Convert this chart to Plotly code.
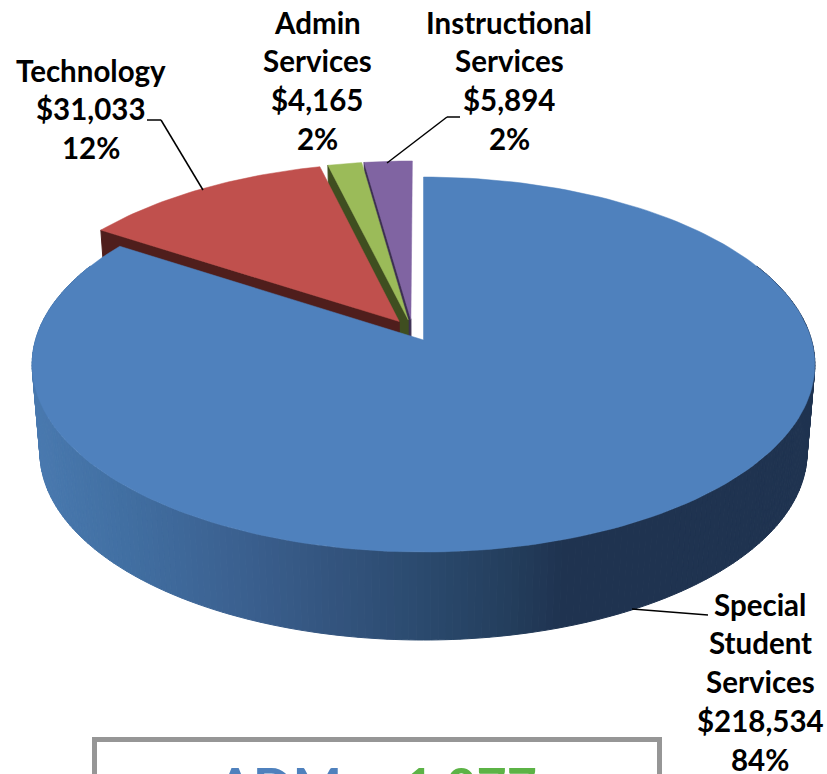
import math
import plotly.graph_objects as go

categories = ["Special Student Services", "Technology", "Admin Services", "Instructional Services"]
values = [218534, 31033, 4165, 5894]
value_labels = ["$218,534", "$31,033", "$4,165", "$5,894"]
percent_labels = ["84%", "12%", "2%", "2%"]
label_lines = [["Special", "Student", "Services"], ["Technology"], ["Admin", "Services"], ["Instructional", "Services"]]
top_colors = ["#4f81bd", "#c0504d", "#9bbb59", "#8064a2"]
wall_colors = ["#1f3552", "#4f1e1c", "#3f4e20", "#3c2f52"]
label_pos = [(760, 604), (91, 70), (317, 22), (509, 22)]
leaders = [[(632, 609), (708, 615)], [(147, 120), (161, 120), (203, 190)], [(460, 117), (447, 117), (387, 163)]]
wall_stops = [(32, "#4a7ab0"), (120, "#4270a3"), (230, "#3c6292"), (330, "#34557f"), (424, "#2b4a6e"),
              (500, "#25405f"), (565, "#1f3350"), (816, "#1f3350")]

# projection of the pie plane
CX, CY = 423.5, 340
A, B, K = 388.0, 184.3, 0.1307
LOW_X, LOW_Y = 0.98, 88.0
E = 0.06
LINE = 38.8
FONT = "Lato"


def project(u, v, low=False):
    w = 1 + K * v
    if low:
        return CX + LOW_X * A * u / w, CY - B * v / w + LOW_Y
    return CX + A * u / w, CY - B * v / w


def hexrgb(h):
    return [int(h[i:i + 2], 16) for i in (1, 3, 5)]


def ramp(x):
    for (x0, c0), (x1, c1) in zip(wall_stops, wall_stops[1:]):
        if x <= x1:
            t = max(0, (x - x0) / (x1 - x0))
            a, b = hexrgb(c0), hexrgb(c1)
            return "rgb(%d,%d,%d)" % tuple(a[i] + (b[i] - a[i]) * t for i in range(3))
    return wall_stops[-1][1]


total = sum(values)
spans = []
a0 = 0.0
for val in values:
    a1 = a0 + 360.0 * val / total
    spans.append((a0, a1))
    a0 = a1

# slice offsets: all explode from a shared centre
mid0 = math.radians(sum(spans[0]) / 2)
base = (-E * math.sin(mid0), -E * math.cos(mid0))


def centre(i):
    m = math.radians(sum(spans[i]) / 2)
    return base[0] + E * math.sin(m), base[1] + E * math.cos(m)


def rim(i, deg):
    c = centre(i)
    r = math.radians(deg)
    return c[0] + math.sin(r), c[1] + math.cos(r)


def poly(points, color, line=1):
    xs = [p[0] for p in points] + [points[0][0]]
    ys = [p[1] for p in points] + [points[0][1]]
    return go.Scatter(x=xs, y=ys, mode="lines", fill="toself", fillcolor=color,
                      line=dict(color=color, width=line), hoverinfo="skip", showlegend=False)


fig = go.Figure()

# back slices, back to front
for i in (3, 2, 1):
    c = centre(i)
    a, b = spans[i]
    p = rim(i, a)
    fig.add_trace(poly([project(*c), project(*p), project(*p, True), project(*c, True)], wall_colors[i]))
    n = 40
    arc = [project(*rim(i, a + (b - a) * j / n)) for j in range(n + 1)]
    fig.add_trace(poly([project(*c)] + arc, top_colors[i], 0.5))

# large slice wall, coloured along its width
a, b = spans[0]
segs = 240
start, stop = 65.0, 295.0
for j in range(segs):
    d0 = start + (stop - start) * j / segs
    d1 = start + (stop - start) * (j + 1) / segs
    p0, p1 = rim(0, d0), rim(0, d1)
    quad = [project(*p0), project(*p1), project(*p1, True), project(*p0, True)]
    fig.add_trace(poly(quad, ramp(sum(q[0] for q in quad) / 4)))

n = 200
arc = [project(*rim(0, a + (b - a) * j / n)) for j in range(n + 1)]
fig.add_trace(poly([project(*centre(0))] + arc, top_colors[0], 0.5))

shapes = []
for path in leaders:
    for (x0, y0), (x1, y1) in zip(path, path[1:]):
        shapes.append(dict(type="line", x0=x0, y0=y0, x1=x1, y1=y1, line=dict(color="#000000", width=1.5)))
shapes.append(dict(type="rect", x0=94.5, y0=739.5, x1=659.5, y1=800, line=dict(color="#969696", width=5)))

annotations = []
for i, (x, y) in enumerate(label_pos):
    lines = label_lines[i] + [value_labels[i], percent_labels[i]]
    for j, text in enumerate(lines):
        annotations.append(dict(x=x, y=y + j * LINE, text="<b>%s</b>" % text, showarrow=False, xanchor="center",
                                yanchor="middle", font=dict(family=FONT, size=29.5, color="#000000")))

annotations.append(dict(x=279, y=752, text="<b>ADM</b>", showarrow=False, xanchor="center", yanchor="top",
                        font=dict(family=FONT, size=52, color="#4f81bd")))
annotations.append(dict(x=470, y=752, text="<b>1,077</b>", showarrow=False, xanchor="center", yanchor="top",
                        font=dict(family=FONT, size=52, color="#5cb346")))

fig.update_layout(width=827, height=774, margin=dict(l=0, r=0, t=0, b=0), paper_bgcolor="white", plot_bgcolor="white",
                  showlegend=False, shapes=shapes, annotations=annotations,
                  xaxis=dict(range=[0, 827], visible=False, fixedrange=True),
                  yaxis=dict(range=[774, 0], visible=False, fixedrange=True))
fig.write_html("out.html", config={"displayModeBar": False},
               post_script="document.body.style.margin='0';document.body.style.overflow='hidden';")
